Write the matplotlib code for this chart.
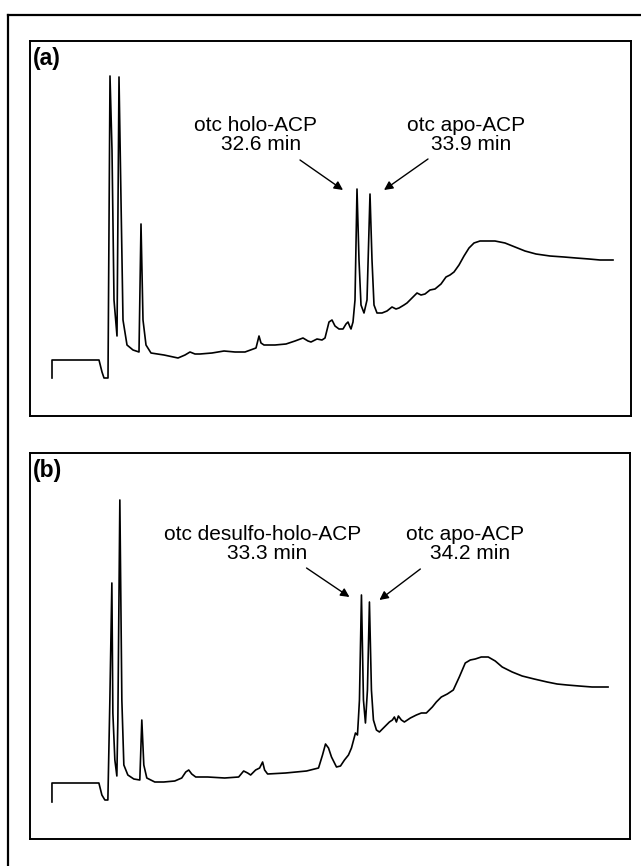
"""Two HPLC traces of otc ACP forms, panels (a) and (b)."""

import matplotlib

matplotlib.use("Agg")
import matplotlib.pyplot as plt

# panel (a): retention time (min) and detector signal (arb. units)
time_a = [
    2.1, 2.1, 6.8, 7.1, 7.3, 7.7, 7.9, 8.1, 8.3, 8.6, 8.8, 9.0, 9.2, 9.6, 10.2,
    10.8, 11.0, 11.2, 11.5, 12.0, 13.3, 14.7, 15.4, 15.9, 16.4, 16.9, 18.1, 19.3,
    20.4, 21.4, 22.5, 22.8, 23.0, 23.3, 24.4, 25.5, 26.4, 27.2, 27.7, 28.0, 28.6,
    29.1, 29.4, 29.8, 30.1, 30.4, 30.8, 31.2, 31.5, 31.7, 31.9, 32.0, 32.2, 32.4,
    32.6, 32.8, 33.0, 33.3, 33.6, 33.9, 34.1, 34.3, 34.6, 35.1, 35.6, 36.1, 36.5,
    36.8, 37.3, 37.6, 38.1, 38.6, 39.0, 39.4, 39.9, 40.4, 41.0, 41.5, 41.9, 42.3,
    42.8, 43.3, 43.8, 44.3, 44.9, 45.6, 46.4, 47.4, 48.4, 49.4, 50.5, 51.9, 53.3,
    54.5, 55.8, 56.9, 58.2,
]
signal_a = [
    0.38, 0.56, 0.56, 0.44, 0.38, 0.38, 3.40, 2.66, 1.16, 0.80, 3.39, 2.16, 0.96,
    0.71, 0.66, 0.64, 1.92, 0.96, 0.71, 0.63, 0.61, 0.58, 0.61, 0.64, 0.62, 0.62,
    0.63, 0.65, 0.64, 0.64, 0.68, 0.80, 0.73, 0.71, 0.71, 0.72, 0.75, 0.78, 0.75,
    0.74, 0.77, 0.76, 0.78, 0.94, 0.96, 0.90, 0.87, 0.87, 0.92, 0.94, 0.89, 0.87,
    0.94, 1.16, 2.27, 1.56, 1.11, 1.03, 1.16, 2.22, 1.56, 1.11, 1.03, 1.03, 1.05,
    1.09, 1.07, 1.08, 1.11, 1.13, 1.18, 1.23, 1.21, 1.22, 1.26, 1.27, 1.32, 1.39,
    1.41, 1.44, 1.51, 1.60, 1.68, 1.73, 1.75, 1.75, 1.75, 1.73, 1.69, 1.65, 1.62,
    1.60, 1.59, 1.58, 1.57, 1.56, 1.56,
]

# panel (b)
time_b = [
    2.1, 2.1, 6.8, 7.1, 7.4, 7.7, 7.9, 8.1, 8.2, 8.4, 8.6, 8.7, 8.9, 9.1, 9.3,
    9.7, 10.3, 10.9, 11.1, 11.3, 11.6, 12.4, 13.3, 14.4, 15.1, 15.5, 15.8, 16.1,
    16.5, 17.7, 19.4, 20.8, 21.3, 21.7, 22.0, 22.5, 22.9, 23.2, 23.4, 23.7, 25.5,
    27.6, 28.8, 29.2, 29.5, 29.8, 30.1, 30.6, 31.0, 31.4, 31.8, 32.1, 32.5, 32.7,
    32.8, 32.9, 33.1, 33.3, 33.5, 33.7, 33.9, 34.1, 34.3, 34.6, 34.9, 35.4, 35.9,
    36.2, 36.4, 36.6, 36.8, 37.1, 37.4, 38.0, 38.6, 39.1, 39.6, 39.9, 40.2, 40.6,
    41.1, 41.7, 42.3, 42.9, 43.5, 44.0, 44.5, 45.1, 45.8, 46.5, 47.2, 48.2, 49.2,
    50.4, 51.7, 52.7, 53.7, 54.9, 56.2, 57.8,
]
signal_b = [
    0.37, 0.56, 0.56, 0.44, 0.39, 0.39, 1.39, 2.56, 1.26, 0.79, 0.63, 1.19, 3.39,
    1.39, 0.74, 0.64, 0.60, 0.59, 1.19, 0.74, 0.61, 0.57, 0.57, 0.58, 0.61, 0.67,
    0.69, 0.65, 0.62, 0.62, 0.61, 0.62, 0.68, 0.66, 0.64, 0.69, 0.71, 0.77, 0.69,
    0.65, 0.66, 0.68, 0.71, 0.84, 0.95, 0.91, 0.82, 0.72, 0.73, 0.79, 0.84, 0.91,
    1.06, 1.04, 1.21, 1.39, 2.44, 1.39, 1.16, 1.49, 2.37, 1.49, 1.19, 1.09, 1.07,
    1.12, 1.17, 1.19, 1.22, 1.17, 1.23, 1.19, 1.17, 1.21, 1.24, 1.26, 1.26, 1.29,
    1.32, 1.37, 1.42, 1.45, 1.49, 1.62, 1.76, 1.79, 1.80, 1.82, 1.82, 1.78, 1.72,
    1.67, 1.63, 1.60, 1.57, 1.55, 1.54, 1.53, 1.52, 1.52,
]

panel_tags = ["(a)", "(b)"]
peak_names_a = ["otc holo-ACP", "otc apo-ACP"]
peak_times_a = ["32.6 min", "33.9 min"]
peak_names_b = ["otc desulfo-holo-ACP", "otc apo-ACP"]
peak_times_b = ["33.3 min", "34.2 min"]

FONT = ["Liberation Sans", "DejaVu Sans"]
W, H = 641, 866


def px_axes(fig, left, top, right, bottom):
    return fig.add_axes([left / W, 1 - bottom / H, (right - left) / W, (bottom - top) / H])


def setup_panel(ax, ymax, tag):
    ax.set_xlim(-0.1, 60.0)
    ax.set_ylim(0, ymax)
    ax.set_xticks([])
    ax.set_yticks([])
    for spine in ax.spines.values():
        spine.set_linewidth(1.4)
    ax.text(0.004, 0.984, tag, transform=ax.transAxes, ha="left", va="top",
            fontsize=16.5, fontweight="bold", family=FONT)


def label_peaks(ax, names, times, text_x, base_y, arrows):
    for name, tm, x in zip(names, times, text_x):
        ax.text(x, base_y, name, ha="center", va="baseline", fontsize=15, family=FONT)
        ax.text(x + 0.5, base_y - 0.19, tm, ha="center", va="baseline", fontsize=15,
                family=FONT)
    for start, tip in arrows:
        ax.annotate("", xy=tip, xytext=start,
                    arrowprops=dict(arrowstyle="-|>", color="black", lw=1.0,
                                    mutation_scale=13, shrinkA=0, shrinkB=0))


def main():
    fig = plt.figure(figsize=(W / 100, H / 100), dpi=100)

    # outer frame: only top and left edges show
    outer = px_axes(fig, 8, 15, W + 5, H + 5)
    outer.set_xticks([])
    outer.set_yticks([])
    outer.spines["right"].set_visible(False)
    outer.spines["bottom"].set_visible(False)
    for side in ("top", "left"):
        outer.spines[side].set_linewidth(1.6)

    ax_a = px_axes(fig, 30, 41, 631, 416)
    setup_panel(ax_a, 3.75, panel_tags[0])
    ax_a.plot(time_a, signal_a, color="black", lw=1.2)
    label_peaks(ax_a, peak_names_a, peak_times_a, [22.5, 43.5], 2.85,
                [((26.9, 2.56), (31.2, 2.26)), ((39.7, 2.57), (35.3, 2.26))])

    ax_b = px_axes(fig, 30, 453, 630, 839)
    setup_panel(ax_b, 3.86, panel_tags[1])
    ax_b.plot(time_b, signal_b, color="black", lw=1.2)
    label_peaks(ax_b, peak_names_b, peak_times_b, [23.2, 43.5], 2.99,
                [((27.6, 2.71), (31.9, 2.42)), ((39.0, 2.70), (34.9, 2.39))])

    fig.savefig("out.png", dpi=100)
    plt.close(fig)


if __name__ == "__main__":
    main()
